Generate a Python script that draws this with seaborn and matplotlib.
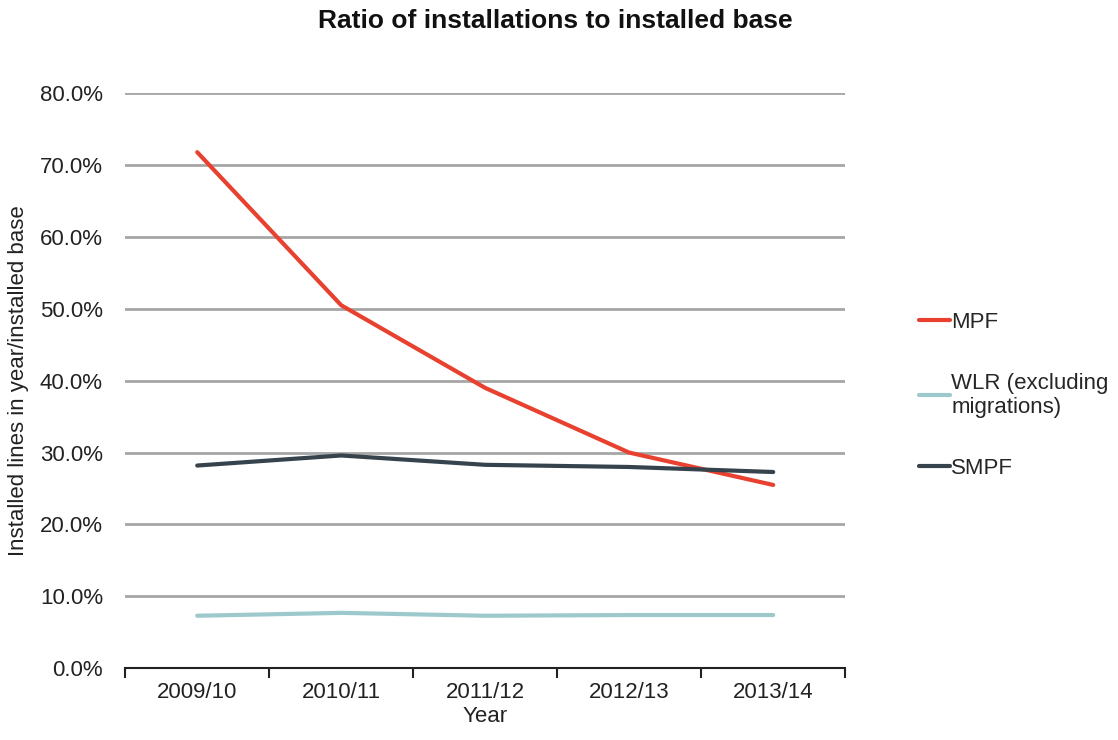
import numpy as np
import pandas as pd
import seaborn as sns
import matplotlib.pyplot as plt
from matplotlib.ticker import PercentFormatter, FixedLocator

years = ['2009/10', '2010/11', '2011/12', '2012/13', '2013/14']
mpf = [71.8, 50.5, 39.0, 30.0, 25.5]
wlr = [7.3, 7.7, 7.3, 7.4, 7.4]
smpf = [28.2, 29.6, 28.3, 28.0, 27.3]

series_names = ['MPF', 'WLR (excluding\nmigrations)', 'SMPF']
colors = ['#E8412F', '#9DC9CD', '#36434D']

df = pd.DataFrame({
    'Year': years * 3,
    'value': mpf + wlr + smpf,
    'series': [series_names[0]] * 5 + [series_names[1]] * 5 + [series_names[2]] * 5,
})

sns.set_theme(style='white')
plt.rcParams['font.family'] = ['Liberation Sans', 'DejaVu Sans']

fs = 16

fig = plt.figure(figsize=(11.18, 7.4), dpi=100)
ax = fig.add_axes([0.112, 0.097, 0.644, 0.777])

sns.lineplot(data=df, x='Year', y='value', hue='series', palette=colors,
             linewidth=3, ax=ax, legend=False, sort=False)

ax.set_ylim(0, 80)
ax.set_xlim(-0.5, 4.5)
ax.yaxis.set_major_formatter(PercentFormatter(decimals=1))
ax.set_yticks(np.arange(0, 81, 10))
ax.grid(axis='y', color='#A6A6A6', linewidth=2)
ax.set_axisbelow(True)

for s in ['top', 'right', 'left']:
    ax.spines[s].set_visible(False)
ax.spines['bottom'].set_color('#222222')
ax.spines['bottom'].set_linewidth(1.5)

ax.set_xticks(range(len(years)))
ax.set_xticklabels(years)
ax.xaxis.set_minor_locator(FixedLocator(np.arange(-0.5, 5, 1)))
ax.tick_params(axis='x', which='major', bottom=False, length=0, labelsize=fs, pad=10, colors='#222222')
ax.tick_params(axis='x', which='minor', bottom=True, length=7, width=1.5, direction='out', color='#222222')
ax.tick_params(axis='y', length=0, labelsize=fs, pad=16, colors='#222222')

ax.set_xlabel('Year', fontsize=fs, color='#222222', labelpad=2)
ax.set_ylabel('Installed lines in year/installed base', fontsize=fs, color='#222222', labelpad=8)

fig.suptitle('Ratio of installations to installed base', x=0.497, y=0.988,
             fontsize=19, fontweight='bold', color='#111111')

handles = [plt.Line2D([], [], color=c, linewidth=3) for c in colors]
fig.legend(handles, series_names, loc='upper left', bbox_to_anchor=(0.818, 0.585),
           frameon=False, fontsize=fs, handlelength=1.4, handletextpad=0.05,
           labelspacing=1.8, borderpad=0.2, borderaxespad=0)

fig.savefig('out.png', dpi=100)
